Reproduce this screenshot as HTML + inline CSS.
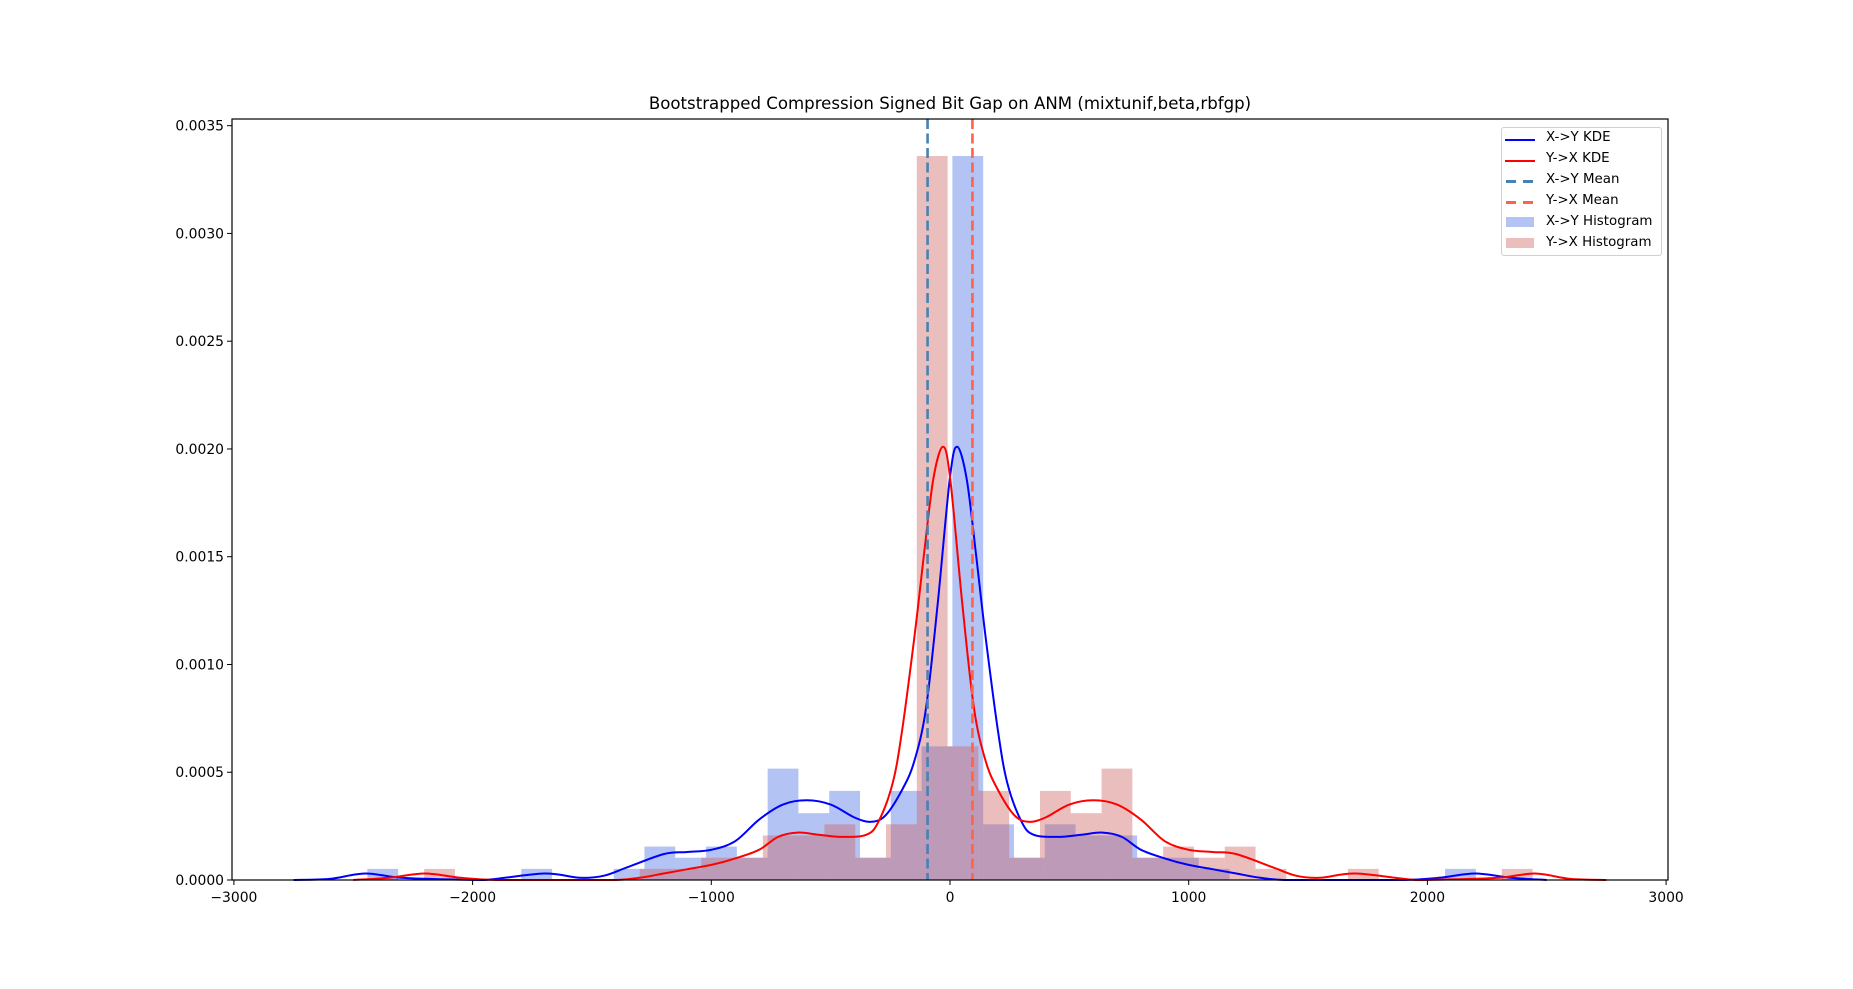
<!DOCTYPE html>
<html><head><meta charset="utf-8"><style>
html,body{margin:0;padding:0;background:#fff;}
svg{display:block;font-family:"DejaVu Sans","Liberation Sans",sans-serif;}
.lg span{white-space:nowrap;}
</style></head><body>
<svg id="chart" width="1853" height="989" viewBox="0 0 1853 989"></svg>
<script>
const binWidth = 129;
const xyBinStart = -2441;
const xyHeights = [1,0,0,0,0,1,0,0,1,3,2,3,2,10,6,8,2,8,12,65,5,2,5,4,4,2,2,1,0,0,0,0,0,0,0,1];
const yxBinStart = -2203;
const yxHeights = [1,0,0,0,0,0,0,1,1,2,2,4,4,5,2,5,65,12,8,2,8,6,10,2,3,2,3,1,0,0,1,0,0,0,0,1];
const sampleCount = 150;
const xyKdeX = [-2750,-2600,-2450,-2300,-2100,-1950,-1700,-1550,-1450,-1350,-1200,-1100,-1000,-900,-800,-700,-600,-500,-400,-330,-270,-200,-150,-100,-50,0,30,70,110,150,200,240,300,350,450,550,640,720,800,900,1000,1100,1200,1300,1400,1600,1900,2050,2200,2350,2500];
const xyKdeY = [0,0.000005,0.00003,0.00001,0.000003,0,0.00003,0.00001,0.00002,0.00006,0.00012,0.00013,0.00014,0.00018,0.00028,0.00035,0.00037,0.00035,0.00029,0.00027,0.0003,0.00042,0.00055,0.0008,0.0013,0.00187,0.00201,0.00186,0.0015,0.00112,0.0007,0.00045,0.00027,0.00021,0.0002,0.00021,0.00022,0.0002,0.00014,0.0001,0.00007,0.00005,0.00003,0.00001,0,0,0,0.00001,0.00003,0.00001,0];
const yxKdeX = [-2500,-2350,-2200,-2050,-1900,-1600,-1400,-1300,-1200,-1100,-1000,-900,-800,-720,-640,-550,-450,-350,-300,-240,-200,-150,-110,-70,-30,0,50,100,150,200,270,330,400,500,600,700,800,900,1000,1100,1200,1350,1450,1550,1700,1950,2100,2300,2450,2600,2750];
const yxKdeY = [0,0.00001,0.00003,0.00001,0,0,0,0.00001,0.00003,0.00005,0.00007,0.0001,0.00014,0.0002,0.00022,0.00021,0.0002,0.00021,0.00027,0.00045,0.0007,0.00112,0.0015,0.00186,0.00201,0.00187,0.0013,0.0008,0.00055,0.00042,0.0003,0.00027,0.00029,0.00035,0.00037,0.00035,0.00028,0.00018,0.00014,0.00013,0.00012,0.00006,0.00002,0.00001,0.00003,0,0.000003,0.00001,0.00003,0.000005,0];
const xyMean = -94;
const yxMean = 94;
const xTicks = [-3000,-2000,-1000,0,1000,2000,3000];
const xTickLabels = ["\u22123000","\u22122000","\u22121000","0","1000","2000","3000"];
const yTicks = [0,0.0005,0.001,0.0015,0.002,0.0025,0.003,0.0035];
const yTickLabels = ["0.0000","0.0005","0.0010","0.0015","0.0020","0.0025","0.0030","0.0035"];

const L=232,R=1668,T=119,B=880;
const xMin=-3008,xMax=3008,yMin=0,yMax=0.003531;
const sx=v=>L+(v-xMin)/(xMax-xMin)*(R-L);
const sy=v=>B-(v-yMin)/(yMax-yMin)*(B-T);
const svg=document.getElementById('chart');
const NS='http://www.w3.org/2000/svg';
function mk(tag,attrs,parent){const e=document.createElementNS(NS,tag);for(const k in attrs)e.setAttribute(k,attrs[k]);(parent||svg).appendChild(e);return e;}

const unit=1/(sampleCount*binWidth);
function hist(start,heights,color,name){
  const g=mk('g',{});
  
  
  heights.forEach((h,i)=>{
    if(!h)return;
    const x0=start+i*binWidth,x1=x0+binWidth;
    const r=mk('rect',{x:sx(x0),y:sy(h*unit),width:sx(x1)-sx(x0),height:sy(0)-sy(h*unit),fill:color},g);
    
    
  });
}
hist(xyBinStart,xyHeights,'rgba(65,105,225,0.4)','xy-histogram');
hist(yxBinStart,yxHeights,'rgba(205,92,92,0.4)','yx-histogram');

function line(xs,ys,color,name){
  const P=xs.map((x,i)=>[sx(x),sy(ys[i])]);
  let d='M'+P[0][0].toFixed(1)+','+P[0][1].toFixed(1);
  for(let i=0;i<P.length-1;i++){
    const p0=P[Math.max(0,i-1)],p1=P[i],p2=P[i+1],p3=P[Math.min(P.length-1,i+2)];
    const c1=[p1[0]+(p2[0]-p0[0])/6,p1[1]+(p2[1]-p0[1])/6];
    const c2=[p2[0]-(p3[0]-p1[0])/6,p2[1]-(p3[1]-p1[1])/6];
    c1[1]=Math.min(c1[1],B);c2[1]=Math.min(c2[1],B);
    d+=' C'+c1[0].toFixed(1)+','+c1[1].toFixed(1)+' '+c2[0].toFixed(1)+','+c2[1].toFixed(1)+' '+p2[0].toFixed(1)+','+p2[1].toFixed(1);
  }
  const p=mk('path',{d:d,fill:'none',stroke:color,'stroke-width':2,'stroke-linejoin':'round'});
  
  
}
line(xyKdeX,xyKdeY,'#0000ff','xy-kde-line');
line(yxKdeX,yxKdeY,'#ff0000','yx-kde-line');

function vline(v,color,name){
  const l=mk('line',{x1:sx(v),x2:sx(v),y1:T,y2:B,stroke:color,'stroke-width':2.6,'stroke-dasharray':'10,4.5'});
  
  
}
vline(xyMean,'#4682b4','xy-mean-line');
vline(yxMean,'#ff6347','yx-mean-line');

const frame=mk('rect',{x:L,y:T,width:R-L,height:B-T,fill:'none',stroke:'#000','stroke-width':1.2});



xTicks.forEach((v,i)=>{
  const x=sx(v);
  const t=mk('line',{x1:x,x2:x,y1:B,y2:B+5,stroke:'#000','stroke-width':1});
  
  
  const lb=mk('text',{x:x,y:B+22,'text-anchor':'middle','font-size':'13.9px',fill:'#000'});
  lb.textContent=xTickLabels[i];
  
  
});
yTicks.forEach((v,i)=>{
  const y=sy(v);
  const t=mk('line',{x1:L-5,x2:L,y1:y,y2:y,stroke:'#000','stroke-width':1});
  
  
  const lb=mk('text',{x:L-8,y:y+5,'text-anchor':'end','font-size':'13.9px',fill:'#000'});
  lb.textContent=yTickLabels[i];
  
  
});
</script>
<div style="position:absolute;left:0;top:94px;width:1900px;text-align:center;font:16.6px 'DejaVu Sans','Liberation Sans',sans-serif;">Bootstrapped Compression Signed Bit Gap on ANM (mixtunif,beta,rbfgp)</div>
<div class="lg" style="position:absolute;left:1501px;top:127px;width:159px;height:127px;border:1px solid #d0d0d0;border-radius:3px;background:rgba(255,255,255,0.8);font:13.4px 'DejaVu Sans','Liberation Sans',sans-serif;">
  <div style="position:absolute;left:3px;top:2px;height:18px;width:150px;"><span style="position:absolute;left:0;top:9px;width:30px;height:2px;background:#0000ff"></span><span style="position:absolute;left:41px;top:0">X-&gt;Y KDE</span></div>
  <div style="position:absolute;left:3px;top:23px;height:18px;width:150px;"><span style="position:absolute;left:0;top:9px;width:30px;height:2px;background:#ff0000"></span><span style="position:absolute;left:41px;top:0">Y-&gt;X KDE</span></div>
  <div style="position:absolute;left:3px;top:44px;height:18px;width:150px;"><span style="position:absolute;left:1px;top:8px;width:10px;height:3px;background:#4682b4"></span><span style="position:absolute;left:18px;top:8px;width:10px;height:3px;background:#4682b4"></span><span style="position:absolute;left:41px;top:0">X-&gt;Y Mean</span></div>
  <div style="position:absolute;left:3px;top:65px;height:18px;width:150px;"><span style="position:absolute;left:1px;top:8px;width:10px;height:3px;background:#ff6347"></span><span style="position:absolute;left:18px;top:8px;width:10px;height:3px;background:#ff6347"></span><span style="position:absolute;left:41px;top:0">Y-&gt;X Mean</span></div>
  <div style="position:absolute;left:3px;top:86px;height:18px;width:150px;"><span style="position:absolute;left:1px;top:3px;width:28px;height:10px;background:rgba(65,105,225,0.4)"></span><span style="position:absolute;left:41px;top:0">X-&gt;Y Histogram</span></div>
  <div style="position:absolute;left:3px;top:107px;height:18px;width:150px;"><span style="position:absolute;left:1px;top:3px;width:28px;height:10px;background:rgba(205,92,92,0.4)"></span><span style="position:absolute;left:41px;top:0">Y-&gt;X Histogram</span></div>
</div>
</body></html>
